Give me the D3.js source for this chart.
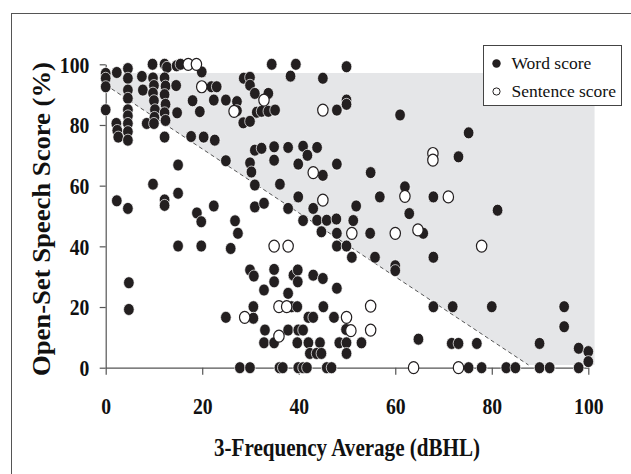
<!DOCTYPE html>
<html>
<head>
<meta charset="utf-8">
<script src="https://cdn.jsdelivr.net/npm/d3@7"></script>
<style>
  body { margin: 0; background: #fff; }
  svg { display: block; font-family: "Liberation Serif", "Times New Roman", serif; }
</style>
</head>
<body>
<div id="chart"></div>
<script>
// hearing level (x) vs open-set score (y)
const wordScore = [
  [0,97],[0,95.4],[0,92.6],[0,85],
  [2.3,97.3],[2.2,80.5],[2.4,78.2],[2.6,76],
  [4.6,98.6],[4.6,95.4],[4.6,91.5],[4.6,88.8],[4.6,85],[4.6,83],[4.6,80.5],[4.6,77.8],[4.6,75],
  [7.5,96],[7.7,91.5],[8.5,80.5],
  [9.7,100],[9.8,95.5],[10,93],[9.8,90.5],[10,88],[10.2,85],[10.1,82.5],[10,80.5],
  [12.2,100],[12.7,99],[12.2,95.5],[12.4,92.8],[12.2,90],[12.4,86.8],[12.2,84],[12.4,81.5],[12.2,76],
  [14.7,99.5],[14.6,93],[14.8,84],[15.5,100],
  [19.9,97.5],[18,88],[19.5,84.4],
  [17.7,76.2],[20.3,76],[22.6,75],
  [21.9,92.6],[23,92.6],[22.4,88.2],[24.9,88.2],[27.2,87.7],[27.2,84.7],
  [28.6,95.4],[29.9,95.7],[29.9,93.1],[30.9,90.4],[33.7,90.4],
  [31.3,84.2],[32.3,84.5],[33.7,84.5],[35.1,84.9],
  [28.5,80.7],[29.9,81.2],
  [24.9,68.2],[30.9,71.7],[32.3,72.3],[34.9,72.8],[34.9,68.4],[37.8,72.6],
  [40.9,73],[41.8,70],[43.8,72.6],[39.9,67.1],
  [29.9,67.5],[30.2,64.5],
  [45,63.4],[47.9,67.1],[54.9,64.3],
  [61,83.3],[47.9,84.9],[49.9,88.2],[49.9,86.8],
  [34.4,100],[39.4,100],[38.3,96.1],[49.9,99.2],[45,95.4],
  [30.9,60.2],[36.1,60.5],[39.9,56.3],
  [43,52.5],[51.9,53.3],[56.8,56.3],[62,59.6],[62.9,50.8],
  [22.4,53.3],[30.9,53],[32.8,54.2],[37.8,52.5],
  [40.9,48.5],[43.8,48.6],[45.8,48.6],[47.8,49],[51.3,48.5],
  [26.8,48.4],[27.4,44.3],[25.9,39.3],
  [44.7,44.8],[47.9,44.3],[47.9,40.1],[49.9,40.1],[51,36.4],[54.8,44.3],[55.8,36.4],
  [60,33.6],[60,32],[65.8,44.3],[67.9,36.4],
  [75.2,77.4],[73.1,69.5],[67.9,56.3],[81.2,51.9],
  [15,66.8],[9.8,60.5],[2.3,55],[4.6,52.5],[12.2,55.3],[12.2,53.5],[15,57.5],[18.9,51],[19.8,48.1],[19.8,40.1],[15,40.1],
  [4.8,28],[4.8,19.2],
  [29.9,32.2],[30.7,30.2],[34.9,32.4],[34.9,28.3],[38.9,30.5],[39.8,32.2],[39.8,28.3],[43,30.5],[45,29.4],
  [47.9,26.2],[32.8,25.6],[37.8,24.5],
  [30.6,20.1],[38.5,20.1],[39.7,20.1],[45.1,20.1],
  [24.9,16.6],[30.6,16.3],[42,16.6],[43,16.6],[47.3,16.6],
  [33,12.4],[32.8,8.2],[37.8,12.4],[34.9,8.2],[39.9,12.4],[40.9,12.4],
  [39.7,8.2],[42,8.2],[44.4,8.2],[48.4,8.2],[49.9,8.2],[53,8.2],[49.8,12.6],
  [42.3,4.7],[43.7,4.7],[44.7,4.7],[49.9,4.7],
  [27.8,0],[29.9,0],[36,0],[36.7,0],[39.9,0],[40.9,0],[41.7,0],[45.8,0],[46.8,0],
  [64.8,9.4],
  [67.9,20.1],[71.9,20.1],[80,20.1],[95,20.1],[95,13.5],
  [71.7,8],[73.1,8],[76.9,8],[89.9,8],
  [98,6.4],[100,5.3],[100,2],
  [75.2,0],[77.9,0],[83,0],[84.9,0],[89.9,0],[92,0],[98,0]
];

const sentenceScore = [
  [17.1,100],[18.8,100],[19.9,92.6],[32.8,88.2],[26.6,84.5],[45,84.9],
  [43,64.3],[45,55.2],[62,56.5],[60,44.3],[51,44.3],[64.7,45.4],
  [67.8,70.6],[67.8,68.4],[71,56.3],[77.9,40.1],
  [34.9,40.1],[37.8,40.1],[35.9,20.1],[37.5,20.1],[54.9,20.3],
  [28.8,16.6],[49.9,16.6],[50.8,12.2],[54.9,12.4],[35.9,10.4],
  [63.8,0],[73.1,0]
];

const xTicks = [0, 20, 40, 60, 80, 100];
const yTicks = [0, 20, 40, 60, 80, 100];

// shaded zone and its dashed lower edge, in data units
const shadeZone = [[0,97.1],[101.3,97.1],[101.3,0.9],[87.6,0.9],[0,93.2]];
const cutLine = [[0,93.2],[87.6,0.9]];

const legendItems = [
  {label: "Word score", open: false},
  {label: "Sentence score", open: true}
];

const width = 631, height = 474;
const svg = d3.select("#chart").append("svg")
    .attr("width", width)
    .attr("height", height);

// page frame (only left and top edges fall inside the picture)
svg.append("rect")
    .attr("x", 11.5).attr("y", 13.5)
    .attr("width", 700).attr("height", 600)
    .attr("fill", "none")
    .attr("stroke", "#555")
    .attr("stroke-width", 1);

const x = d3.scaleLinear().domain([0, 100]).range([105.7, 588.3]);
const y = d3.scaleLinear().domain([0, 100]).range([367.7, 64.3]);

const line = d3.line().x(d => x(d[0])).y(d => y(d[1]));

svg.append("path")
    .attr("d", line(shadeZone) + "Z")
    .attr("fill", "#e5e6e8");

svg.append("path")
    .attr("d", line(cutLine))
    .attr("fill", "none")
    .attr("stroke", "#444")
    .attr("stroke-width", 0.9)
    .attr("stroke-dasharray", "4,3");

// axes
const xAxis = svg.append("g")
    .attr("transform", `translate(0,${y(0)})`)
    .call(d3.axisBottom(x).tickValues(xTicks).tickSizeInner(7).tickSizeOuter(0));
const yAxis = svg.append("g")
    .attr("transform", `translate(${x(0)},0)`)
    .call(d3.axisLeft(y).tickValues(yTicks).tickSizeInner(6).tickSizeOuter(0));

[xAxis, yAxis].forEach(g => {
    g.selectAll("path, line").attr("stroke", "#555").attr("stroke-width", 1.2);
    g.selectAll("text")
        .attr("fill", "#111")
        .style("font-family", '"Liberation Serif", serif')
        .style("font-weight", "bold")
        .style("font-size", "24px");
});
xAxis.selectAll("text").attr("y", 46).attr("dy", 0)
    .attr("x", 0)
    .attr("transform", "scale(0.82,1)");
yAxis.selectAll("text").attr("x", -20).attr("dy", "0.33em")
    .attr("transform", "scale(0.82,1)");

// points
svg.append("g").selectAll("ellipse")
    .data(wordScore)
    .join("ellipse")
    .attr("cx", d => x(d[0]))
    .attr("cy", d => y(d[1]))
    .attr("rx", 5.3)
    .attr("ry", 6)
    .attr("fill", "#231f20")
    .attr("stroke", "#fff")
    .attr("stroke-width", 0.7);

svg.append("g").selectAll("ellipse")
    .data(sentenceScore)
    .join("ellipse")
    .attr("cx", d => x(d[0]))
    .attr("cy", d => y(d[1]))
    .attr("rx", 5.2)
    .attr("ry", 6)
    .attr("fill", "#fff")
    .attr("stroke", "#231f20")
    .attr("stroke-width", 1.2);

// axis titles
svg.append("text")
    .attr("x", (x(0) + x(100)) / 2)
    .attr("y", 456)
    .attr("text-anchor", "middle")
    .attr("textLength", 266)
    .attr("lengthAdjust", "spacingAndGlyphs")
    .style("font-size", "26px")
    .style("font-weight", "bold")
    .attr("fill", "#111")
    .text("3-Frequency Average (dBHL)");

svg.append("text")
    .attr("transform", "translate(49.5,219) rotate(-90)")
    .attr("text-anchor", "middle")
    .attr("textLength", 314)
    .attr("lengthAdjust", "spacingAndGlyphs")
    .style("font-size", "26px")
    .style("font-weight", "bold")
    .attr("fill", "#111")
    .text("Open-Set Speech Score (%)");

// legend
const legend = svg.append("g");
legend.append("rect")
    .attr("x", 483.5).attr("y", 45.5)
    .attr("width", 138).attr("height", 60)
    .attr("fill", "#fff")
    .attr("stroke", "#444")
    .attr("stroke-width", 1);

const item = legend.selectAll("g.item")
    .data(legendItems)
    .join("g")
    .attr("class", "item")
    .attr("transform", (d, i) => `translate(496.5,${63.5 + i * 28})`);

item.append("circle")
    .attr("r", d => d.open ? 3.6 : 4.2)
    .attr("fill", d => d.open ? "#fff" : "#231f20")
    .attr("stroke", "#231f20")
    .attr("stroke-width", d => d.open ? 1 : 0);

item.append("text")
    .attr("x", 15)
    .attr("dy", "0.34em")
    .style("font-size", "17.5px")
    .attr("fill", "#111")
    .text(d => d.label);
</script>
</body>
</html>
